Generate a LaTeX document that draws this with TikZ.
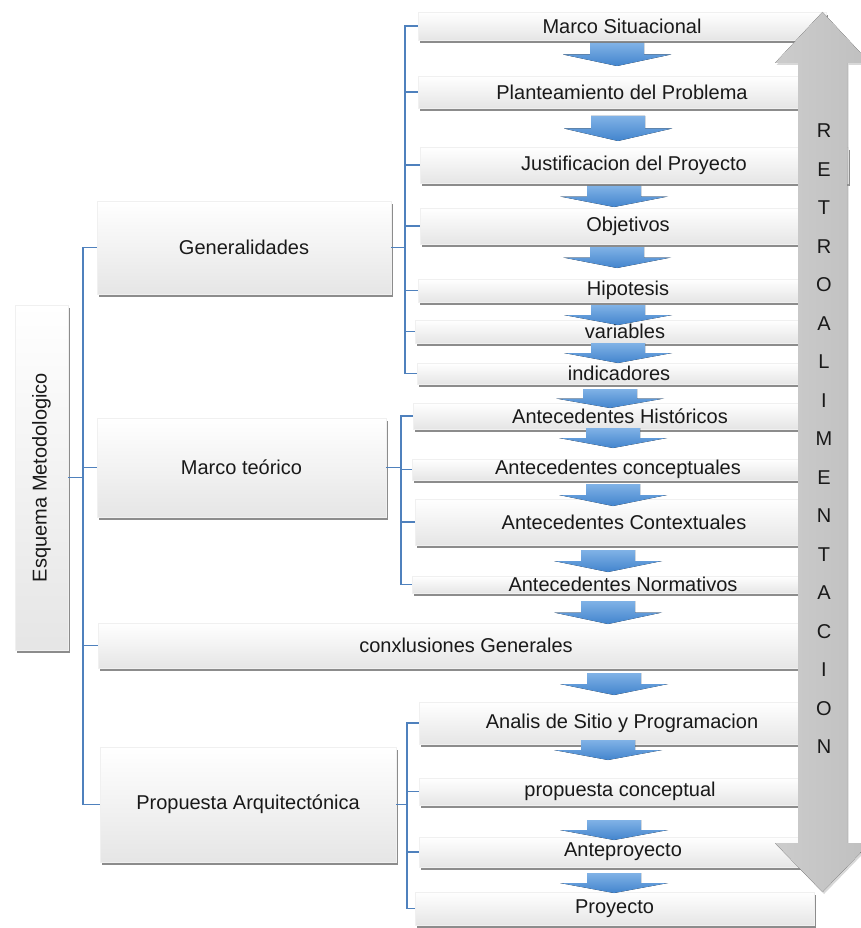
\documentclass[tikz,border=0pt]{standalone}
\usepackage{fontspec}
\setmainfont{Liberation Sans}
\usetikzlibrary{shadows}
\definecolor{ramal}{RGB}{79,129,189}
\definecolor{flechaA}{RGB}{128,178,230}
\definecolor{flechaB}{RGB}{66,132,205}
\begin{document}
\begin{tikzpicture}[x=1pt,y=-1pt,
  caja/.style={rectangle,inner sep=0pt,draw=gray!12,top color=white,bottom color=gray!20,
    drop shadow={shadow xshift=1.5pt,shadow yshift=-3pt,fill=black!60,opacity=0.75},
    text=black!90,font=\fontsize{20}{24}\selectfont},
  ramas/.style={draw=ramal,line width=1.4pt},
  flecha/.style={top color=flechaA,bottom color=flechaB,draw=none},
  letra/.style={inner sep=0pt,font=\fontsize{20}{24}\selectfont,text=black!90}]
% esquema metodologico: cajas, ramas, flechas y retroalimentacion
\useasboundingbox[fill=white] (0,0) rectangle (861,928);
\node[caja,minimum width=53pt,minimum height=345pt] (raiz) at (41.5,477.5) {\rotatebox{90}{Esquema Metodologico}};
\node[caja,minimum width=294pt,minimum height=93pt] (gen) at (244,247.5) {Generalidades};
\node[caja,minimum width=289pt,minimum height=99pt] (mteo) at (241.5,467.5) {Marco teórico};
\node[caja,minimum width=736pt,minimum height=45pt] (concl) at (466,645.5) {conxlusiones Generales};
\node[caja,minimum width=296pt,minimum height=115pt] (prop) at (248,804.5) {Propuesta Arquitectónica};
\node[caja,minimum width=408pt,minimum height=28pt] (msit) at (622,26) {Marco Situacional};
\node[caja,minimum width=408pt,minimum height=32pt] (plan) at (622,92) {Planteamiento del Problema};
\node[caja,minimum width=428pt,minimum height=36pt] (just) at (634,165) {Justificacion del Proyecto};
\node[caja,minimum width=416pt,minimum height=36pt] (obj) at (628,226) {Objetivos};
\node[caja,minimum width=420pt,minimum height=23pt] (hip) at (628,290.5) {Hipotesis};
\node[caja,minimum width=420pt,minimum height=23pt] (var) at (625,331.5) {variables};
\node[caja,minimum width=404pt,minimum height=21pt] (ind) at (619,373.5) {indicadores};
\node[caja,minimum width=414pt,minimum height=26pt] (ahis) at (620,416) {Antecedentes Históricos};
\node[caja,minimum width=412pt,minimum height=21pt] (acon) at (618,469.5) {Antecedentes conceptuales};
\node[caja,minimum width=418pt,minimum height=46pt] (actx) at (624,522) {Antecedentes Contextuales};
\node[caja,minimum width=422pt,minimum height=17pt] (anor) at (623,584.5) {Antecedentes Normativos};
\node[caja,minimum width=406pt,minimum height=42pt] (asit) at (622,723) {Analis de Sitio y Programacion};
\node[caja,minimum width=402pt,minimum height=27pt] (pcon) at (620,791.5) {propuesta conceptual};
\node[caja,minimum width=408pt,minimum height=30pt] (ante) at (623,852) {Anteproyecto};
\node[caja,minimum width=399pt,minimum height=33pt] (proy) at (614.5,908.5) {Proyecto};
\coordinate (jraiz) at (83,477.5);
\coordinate (jgen) at (405,247.5);
\coordinate (jmteo) at (401,467.5);
\coordinate (jprop) at (407,804.5);
\draw[ramas] (raiz.east) -- (jraiz);
\foreach \n in {gen,mteo,concl,prop} \draw[ramas] (jraiz) |- (\n.west);
\draw[ramas] (gen.east) -- (jgen);
\foreach \n in {msit,plan,just,obj,hip,var,ind} \draw[ramas] (jgen) |- (\n.west);
\draw[ramas] (mteo.east) -- (jmteo);
\foreach \n in {ahis,acon,actx,anor} \draw[ramas] (jmteo) |- (\n.west);
\draw[ramas] (prop.east) -- (jprop);
\foreach \n in {asit,pcon,ante,proy} \draw[ramas] (jprop) |- (\n.west);
\foreach \cx/\ya/\yb in {617/43/66,618/116/141,614/186/207,617/247/268,618/305/325,
  618/343/363,610/389/408,613/428/448,613/484/506,608/550/572,608/601/624,
  614/673/695,608/740/760,614/820/840,614/873/893}
  \fill[flecha] (\cx-27,\ya) -- (\cx+27,\ya) -- (\cx+27,{\ya+0.5*(\yb-\ya)})
    -- (\cx+54,{\ya+0.5*(\yb-\ya)}) -- (\cx,\yb) -- (\cx-54,{\ya+0.5*(\yb-\ya)})
    -- (\cx-27,{\ya+0.5*(\yb-\ya)}) -- cycle;
\fill[left color=gray!40,right color=gray!50,drop shadow={shadow xshift=1.5pt,shadow yshift=-2pt,fill=black!30,opacity=0.5}]
  (822.5,12) -- (870,63) -- (847,63) -- (847,843) -- (870,843) -- (822.5,892)
  -- (775,843) -- (798,843) -- (798,63) -- (775,63) -- cycle;
\foreach \l [count=\i from 0] in {R,E,T,R,O,A,L,I,M,E,N,T,A,C,I,O,N}
  \node[letra] (l\i) at (824,131+38.5*\i) {\l};
\end{tikzpicture}
\end{document}
